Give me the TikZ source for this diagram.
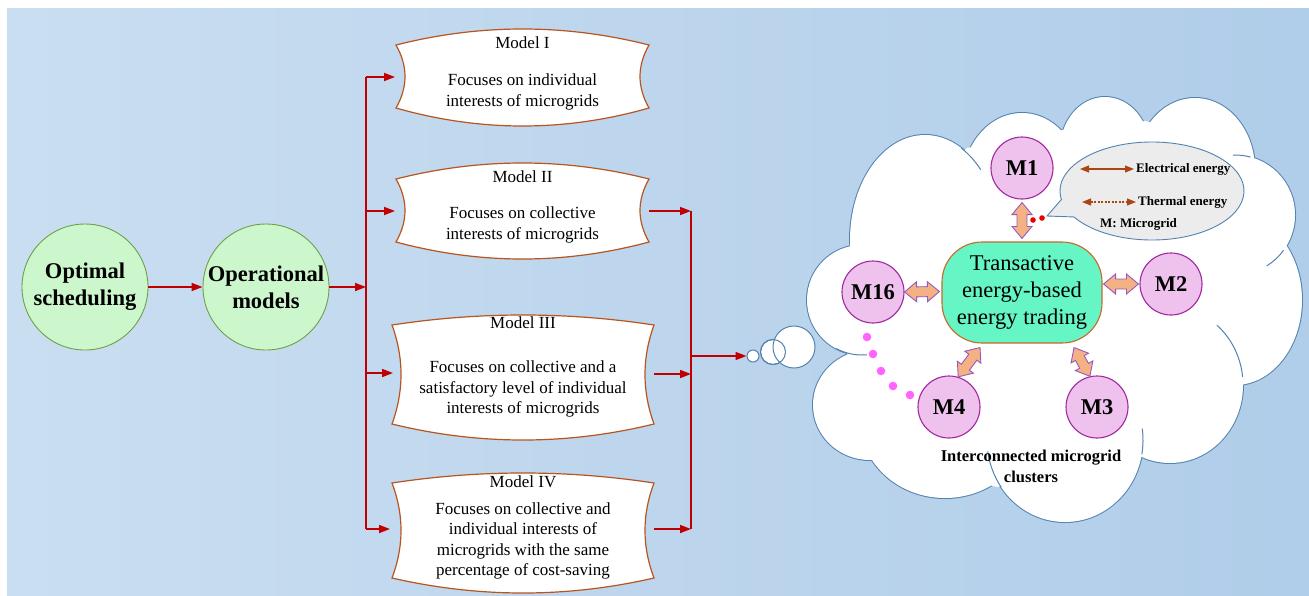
\documentclass[tikz,border=0pt]{standalone}
\usepackage{fontspec}
\setmainfont{Liberation Serif}
\usetikzlibrary{arrows.meta,calc,shapes.geometric}
\definecolor{bgL}{RGB}{202,222,241}
\definecolor{bgM}{RGB}{212,229,244}
\definecolor{bgR}{RGB}{176,205,233}
\definecolor{redc}{RGB}{192,0,0}
\definecolor{greenfill}{RGB}{204,246,204}
\definecolor{greenline}{RGB}{110,160,70}
\definecolor{boxline}{RGB}{184,84,30}
\definecolor{cloudline}{RGB}{84,130,175}
\definecolor{mfill}{RGB}{238,194,236}
\definecolor{mline}{RGB}{160,40,160}
\definecolor{hubfill}{RGB}{102,245,196}
\definecolor{hubline}{RGB}{200,105,40}
\definecolor{blkfill}{RGB}{244,177,131}
\definecolor{blkline}{RGB}{150,90,190}
\definecolor{legfill}{RGB}{236,236,236}
\definecolor{legarrow}{RGB}{170,70,20}
\definecolor{dotpink}{RGB}{255,100,255}
\definecolor{dotred}{RGB}{235,0,0}

\newcommand\modelshape[6]{%
  \draw[modelshape] (#1,#3) .. controls ({#1+(#2-#1)/3},{#3-#5/0.75}) and ({#2-(#2-#1)/3},{#3-#5/0.75}) .. (#2,#3)
   .. controls ({#2-12},{#3+(#4-#3)/3}) and ({#2-12},{#4-(#4-#3)/3}) .. (#2,#4)
   .. controls ({#2-(#2-#1)/3},{#4+#6/0.75}) and ({#1+(#2-#1)/3},{#4+#6/0.75}) .. (#1,#4)
   .. controls ({#1+12},{#4-(#4-#3)/3}) and ({#1+12},{#3+(#4-#3)/3}) .. (#1,#3) -- cycle;}

\newcommand\dblblock[2]{%
  \path ($(#1)!12pt!(#2)$) coordinate (ba1) ($(#2)!12pt!(#1)$) coordinate (ba2);
  \draw[blk] (#1) -- ($(ba1)!10pt!90:(#2)$) -- ($(ba1)!5pt!90:(#2)$) -- ($(ba2)!5pt!-90:(#1)$) -- ($(ba2)!10pt!-90:(#1)$) -- (#2)
    -- ($(ba2)!10pt!90:(#1)$) -- ($(ba2)!5pt!90:(#1)$) -- ($(ba1)!5pt!-90:(#2)$) -- ($(ba1)!10pt!-90:(#2)$) -- cycle;}

\begin{document}
\begin{tikzpicture}[x=1pt,y=-1pt,
  redarrow/.style={draw=redc, line width=1.6pt, -{Triangle[length=11pt,width=8pt]}},
  redline/.style={draw=redc, line width=1.6pt},
  bigcirc/.style={circle, draw=greenline, fill=greenfill, line width=0.9pt, minimum size=126pt, inner sep=0pt, align=center, font=\bfseries\fontsize{22.5}{27}\selectfont},
  modelshape/.style={draw=boxline, fill=white, line width=1.2pt},
  mtitle/.style={font=\fontsize{17}{20}\selectfont, inner sep=0pt},
  mbody/.style={font=\fontsize{17}{20.5}\selectfont, align=center, inner sep=0pt},
  mnode/.style={circle, draw=mline, fill=mfill, line width=1.1pt, minimum size=62pt, inner sep=0pt, font=\bfseries\fontsize{22.5}{27}\selectfont},
  hubnode/.style={rectangle, rounded corners=40pt, draw=hubline, fill=hubfill, line width=1.1pt, minimum width=160pt, minimum height=101pt, align=center, font=\fontsize{22.5}{27}\selectfont, inner sep=0pt},
  blk/.style={draw=blkline, fill=blkfill, line width=0.9pt, line join=miter},
  cloudedge/.style={draw=cloudline, line width=1pt},
  bubble/.style={circle, draw=cloudline, fill=white, line width=1pt, inner sep=0pt},
  legtext/.style={font=\bfseries\fontsize{13}{15}\selectfont, inner sep=0pt, anchor=west},
  legarr/.style={draw=legarrow, line width=1.1pt, {Triangle[length=9pt,width=7pt]}-{Triangle[length=9pt,width=7pt]}}
]
\useasboundingbox (0,0) rectangle (1309,595);
\shade[left color=bgL, middle color=bgM, right color=bgR] (7,8) rectangle (1309,595);

% left circles
\node[bigcirc] (opt) at (85,287) {Optimal\\scheduling};
\node[bigcirc] (ops) at (266,287) {Operational\\models};
\draw[redarrow] (opt) -- (ops);

% model shapes
\modelshape{396}{649}{45}{108}{16}{18}
\modelshape{396}{649}{179}{242}{16}{17}
\modelshape{392}{654}{325}{424}{10}{16}
\modelshape{392}{654}{483}{578}{10}{15}

\node[mtitle] (t1) at (522.5,43) {Model I};
\node[mbody] (b1) at (522.5,92) {Focuses on individual\\interests of microgrids};
\node[mtitle] (t2) at (522.5,177) {Model II};
\node[mbody] (b2) at (522.5,225) {Focuses on collective\\interests of microgrids};
\node[mtitle] (t3) at (523,323) {Model III};
\node[mbody] (b3) at (523,389) {Focuses on collective and a\\satisfactory level of individual\\interests of microgrids};
\node[mtitle] (t4) at (523,482) {Model IV};
\node[mbody] (b4) at (523,541) {Focuses on collective and\\individual interests of\\microgrids with the same\\percentage of cost-saving};

% left bus
\coordinate (busT) at (366,77);
\coordinate (busB) at (366,529);
\coordinate (m1in) at (395,77);
\coordinate (m2in) at (395,211);
\coordinate (m3in) at (393,373);
\coordinate (m4in) at (390,529);
\draw[redarrow] (ops.east) -- (ops.east -| busT);
\draw[redline] (busT) -- (busB);
\draw[redarrow] (busT) -- (m1in);
\draw[redarrow] (busT |- m2in) -- (m2in);
\draw[redarrow] (busT |- m3in) -- (m3in);
\draw[redarrow] (busB) -- (m4in);

% right bus
\coordinate (m2out) at (649,211);
\coordinate (m3out) at (654,374);
\coordinate (m4out) at (654,529);
\coordinate (rbT) at (691,211);
\coordinate (rbB) at (691,529);
\coordinate (rbO) at (691,356);
\draw[redline] (rbT) -- (rbB);
\draw[redarrow] (m2out) -- (rbT);
\draw[redarrow] (m3out) -- (m3out -| rbT);
\draw[redarrow] (m4out) -- (rbB);

% cloud
\foreach \cx/\cy/\rx/\ry in {862/300/55/55, 925/240/75/105, 1022/185/60/72, 1105/150/45/53, 1195/170/60/72, 1235/215/60/60, 1235/300/67/85, 1170/385/73/78, 1065/440/78/82, 945/420/85/78, 870/405/57/55}
  \draw[draw=cloudline, line width=2pt] (\cx,\cy) ellipse[x radius=\rx pt, y radius=\ry pt];
\foreach \cx/\cy/\rx/\ry in {862/300/55/55, 925/240/75/105, 1022/185/60/72, 1105/150/45/53, 1195/170/60/72, 1235/215/60/60, 1235/300/67/85, 1170/385/73/78, 1065/440/78/82, 945/420/85/78, 870/405/57/55}
  \fill[white] (\cx,\cy) ellipse[x radius=\rx pt, y radius=\ry pt];
\fill[white] (850,243) -- (967,148) -- (1063,130) -- (1146,121) -- (1252,157) -- (1287,253) -- (1243,385) -- (1140,453) -- (997,487) -- (877,455) -- (847,353) -- cycle;
% inner arcs
\coordinate (lB) at (925,240);
\coordinate (lF) at (1235,215);
\coordinate (lH) at (1170,385);
\coordinate (lI) at (1065,440);
\coordinate (lA) at (862,300);
\draw[cloudedge] ([shift={(61:75pt and 105pt)}]lB) arc[start angle=61, end angle=42, x radius=75pt, y radius=105pt];
\draw[cloudedge] ([shift={(75:60pt and 60pt)}]lF) arc[start angle=75, end angle=92, x radius=60pt, y radius=60pt];
\draw[cloudedge] ([shift={(-36:60pt and 60pt)}]lF) arc[start angle=-36, end angle=-58, x radius=60pt, y radius=60pt];
\draw[cloudedge] ([shift={(50:73pt and 78pt)}]lH) arc[start angle=50, end angle=6, x radius=73pt, y radius=78pt];
\draw[cloudedge] ([shift={(8:78pt and 82pt)}]lI) arc[start angle=8, end angle=-10, x radius=78pt, y radius=82pt];
\draw[cloudedge] ([shift={(-145:78pt and 82pt)}]lI) arc[start angle=-145, end angle=-172, x radius=78pt, y radius=82pt];
\draw[cloudedge] ([shift={(-85:55pt and 55pt)}]lA) arc[start angle=-85, end angle=-118, x radius=55pt, y radius=55pt];

% thought bubbles
\node[bubble, minimum size=12pt] (sb) at (753,356) {};
\node[bubble, minimum size=25pt] (mb) at (773,352) {};
\node[bubble, minimum size=42pt] (lb) at (794,347) {};
\draw[cloudedge] (mb) circle (12.5pt);
\draw[redarrow] (rbO) -- (sb.west);

% legend callout
\coordinate (lgc) at (1152,191);
\coordinate (tailtip) at (1047,216);
\path[draw=cloudline, fill=legfill, line width=0.9pt] ([shift={(212:92pt and 49pt)}]lgc) arc[start angle=212, end angle=550, x radius=92pt, y radius=49pt] -- (tailtip) -- cycle;
\coordinate (e1) at (1080,169);
\coordinate (e2) at (1134,169);
\coordinate (th1) at (1082,202);
\coordinate (th2) at (1136,202);
\draw[legarr] (e1) -- (e2);
\draw[legarr, dash pattern=on 2pt off 1.5pt] (th1) -- (th2);
\node[legtext] (lE) at (1136,169) {Electrical energy};
\node[legtext] (lT) at (1138,202) {Thermal energy};
\node[legtext] (lM) at (1100,224) {M: Microgrid};
\fill[dotred] (1033,220) circle (2.8pt);
\fill[dotred] (1042,218) circle (2.8pt);

% hub and microgrids
\node[hubnode] (hub) at (1022,292.5) {Transactive\\energy-based\\energy trading};
\node[mnode] (M1) at (1022,168) {M1};
\node[mnode] (M2) at (1171,284) {M2};
\node[mnode] (M16) at (873,292) {M16};
\node[mnode] (M3) at (1097,407) {M3};
\node[mnode] (M4) at (949,407) {M4};

\coordinate (c1) at ($(M1.south)+(0,3)$);
\coordinate (h1) at ($(hub.north)+(0,-3)$);
\coordinate (c16) at (M16.east);
\coordinate (h16) at ($(hub.west)+(-2,-1)$);
\coordinate (h2) at ($(hub.east |- M2.west)+(1,0)$);
\coordinate (c2) at ($(M2.west)+(-1,0)$);
\coordinate (h4) at ($(hub.south)+(-42,4)$);
\coordinate (c4) at (M4.73);
\coordinate (h3) at ($(hub.south)+(52,4)$);
\coordinate (c3) at (M3.103);
\dblblock{c1}{h1}
\dblblock{c16}{h16}
\dblblock{h2}{c2}
\dblblock{h4}{c4}
\dblblock{h3}{c3}

% dotted continuation
\foreach \px/\py in {867/337, 873/354, 881/371, 893/386, 910/395}
  \fill[dotpink] (\px,\py) circle (4.3pt);

\node[font=\bfseries\fontsize{16.5}{21}\selectfont, align=center, inner sep=0pt] (ctext) at (1031,466) {Interconnected microgrid\\clusters};
\end{tikzpicture}
\end{document}
